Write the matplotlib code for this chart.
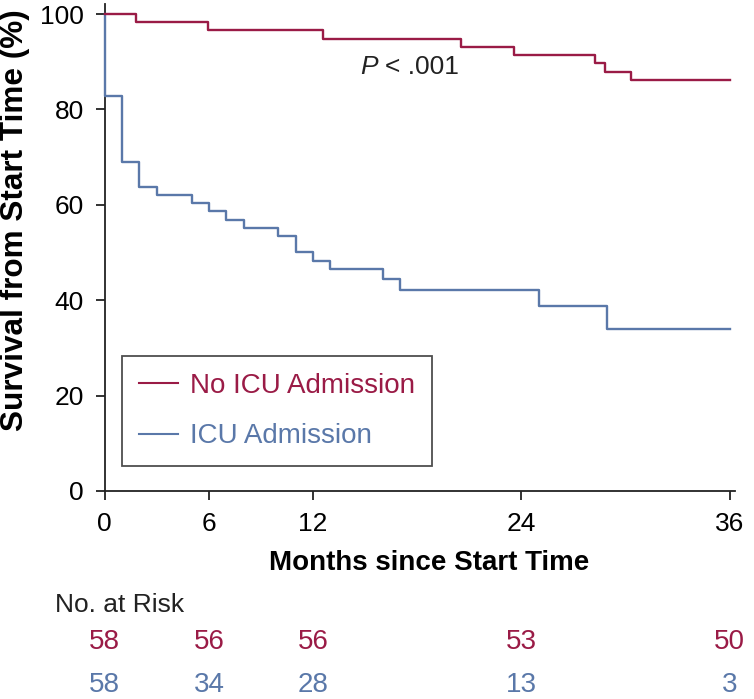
import matplotlib
matplotlib.use("Agg")
import matplotlib.pyplot as plt
import matplotlib.transforms as mtransforms
from matplotlib.lines import Line2D

plt.rcParams['font.family'] = ['Liberation Sans', 'DejaVu Sans']

# ---- data ----
no_icu_times = [0, 1.8, 5.95, 12.6, 20.5, 23.6, 28.25, 28.8, 30.3, 36]
no_icu_surv = [100, 98.28, 96.55, 94.83, 93.10, 91.38, 89.66, 87.93, 86.21, 86.21]

icu_times = [0, 0.0, 1.0, 2.0, 3.0, 5.0, 6.0, 7.0, 8.0, 10.0, 11.0, 12.0, 13.0, 16.0, 17.0, 25.0, 28.95, 36]
icu_surv = [100, 82.76, 68.97, 63.79, 62.07, 60.34, 58.62, 56.90, 55.17, 53.45, 50.00, 48.28, 46.55, 44.40, 42.05, 38.85, 33.95, 33.95]

risk_times = [0, 6, 12, 24, 36]
risk_no_icu = [58, 56, 56, 53, 50]
risk_icu = [58, 34, 28, 13, 3]

x_ticks = [0, 6, 12, 24, 36]
y_ticks = [0, 20, 40, 60, 80, 100]

red = '#9A1B46'
blue = '#5A78A9'
dark = '#222222'

fig = plt.figure(figsize=(7.54, 6.99), dpi=100)
ax = fig.add_axes([0.1389, 0.2976, 0.8358, 0.696])

ax.step(icu_times, icu_surv, where='post', color=blue, lw=1.7, clip_on=False, zorder=3)
ax.step(no_icu_times, no_icu_surv, where='post', color=red, lw=1.7, clip_on=False, zorder=4)

ax.set_xlim(0, 36.3)
ax.set_ylim(0, 102)
ax.set_xticks(x_ticks)
ax.set_yticks(y_ticks)
ax.spines['top'].set_visible(False)
ax.spines['right'].set_visible(False)
for s in ['left', 'bottom']:
    ax.spines[s].set_linewidth(1.3)
    ax.spines[s].set_color(dark)
ax.tick_params(direction='out', length=6.5, width=1.3, labelsize=19, color=dark, pad=8.5)

ax.set_ylabel('Survival from Start Time (%)', fontsize=22.7, fontweight='bold')
ax.yaxis.label.set_va('center')
ax.yaxis.set_label_coords(-0.143, 0.557)
ax.set_xlabel('Months since Start Time', fontsize=20, fontweight='bold')
ax.xaxis.label.set_va('center')
ax.xaxis.set_label_coords(0.5146, -0.148)

ax.text(14.7, 88.9, 'P', fontsize=19, style='italic', ha='left', va='center', color=dark)
ax.text(16.15, 88.9, '< .001', fontsize=19, ha='left', va='center', color=dark)

handles = [Line2D([0], [0], color=red, lw=1.5), Line2D([0], [0], color=blue, lw=1.5)]
leg = ax.legend(handles, ['No ICU Admission', 'ICU Admission'], loc='lower left',
                bbox_to_anchor=(0.0275, 0.0514), fontsize=20, frameon=True, fancybox=False,
                edgecolor=dark, handlelength=1.42, handletextpad=0.43,
                borderpad=0.6, labelspacing=0.87, borderaxespad=0)
leg.get_frame().set_linewidth(1.3)
for t, c in zip(leg.get_texts(), [red, blue]):
    t.set_color(c)

trans = mtransforms.blended_transform_factory(ax.transData, fig.transFigure)
fig.text(55 / 754, 1 - 605 / 699, 'No. at Risk', fontsize=19, ha='left', va='center', color=dark)
for t, n in zip(risk_times, risk_no_icu):
    fig.text(t, 1 - 642 / 699, str(n), transform=trans, fontsize=20, ha='center', va='center', color=red)
for t, n in zip(risk_times, risk_icu):
    fig.text(t, 1 - 685 / 699, str(n), transform=trans, fontsize=20, ha='center', va='center', color=blue)

fig.savefig('out.png', dpi=100)
